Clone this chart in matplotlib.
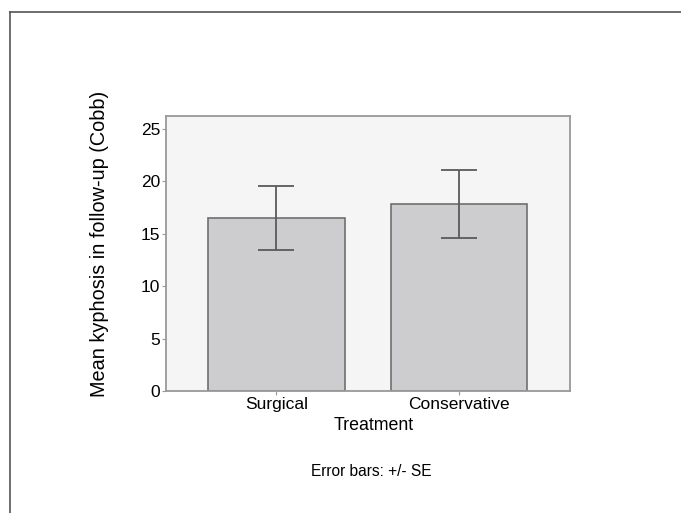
import matplotlib
matplotlib.use("Agg")
import matplotlib.pyplot as plt
from matplotlib.lines import Line2D

plt.rcParams['font.family'] = ['Liberation Sans', 'DejaVu Sans']

# data
treatments = ["Surgical", "Conservative"]
mean_kyphosis = [16.55, 17.85]
std_err = [3.05, 3.2]
y_ticks = [0, 5, 10, 15, 20, 25]

fig = plt.figure(figsize=(6.81, 5.13), dpi=100)
# outer frame (only left and top visible in the reference)
fig.add_artist(Line2D([10 / 681, 10 / 681], [0, 1 - 12 / 513], color="#555555", lw=1.2))
fig.add_artist(Line2D([10 / 681, 1], [1 - 12 / 513, 1 - 12 / 513], color="#555555", lw=1.2))

ax = fig.add_axes([166 / 681, 1 - 391 / 513, 404 / 681, 275 / 513])
ax.set_facecolor("#f5f5f5")
x = list(range(len(treatments)))
ax.bar(x, mean_kyphosis, width=0.75, color="#cdcdcf", edgecolor="#6f6f6f", linewidth=1.2)
ax.errorbar(x, mean_kyphosis, yerr=std_err, fmt="none", ecolor="#5a5a5a",
            elinewidth=1.3, capsize=13, capthick=1.3)

ax.set_xlim(-0.605, 1.608)
ax.set_ylim(0, 26.25)
ax.set_yticks(y_ticks)
ax.set_xticks(x)
ax.set_xticklabels(treatments)
for s in ax.spines.values():
    s.set_color("#999999")
    s.set_linewidth(1.3)
ax.tick_params(axis="both", colors="#999999", labelcolor="black", labelsize=12.5,
               length=3, width=0.8, pad=1)

fig.text(100 / 681, 1 - 244 / 513, "Mean kyphosis in follow-up (Cobb)", rotation=90,
         ha="center", va="center", fontsize=14.3)
fig.text(374 / 681, 1 - 426 / 513, "Treatment", ha="center", va="center", fontsize=12.8)
fig.text(371 / 681, 1 - 471 / 513, "Error bars: +/- SE", ha="center", va="center", fontsize=11.2)

fig.savefig("out.png", dpi=100)
